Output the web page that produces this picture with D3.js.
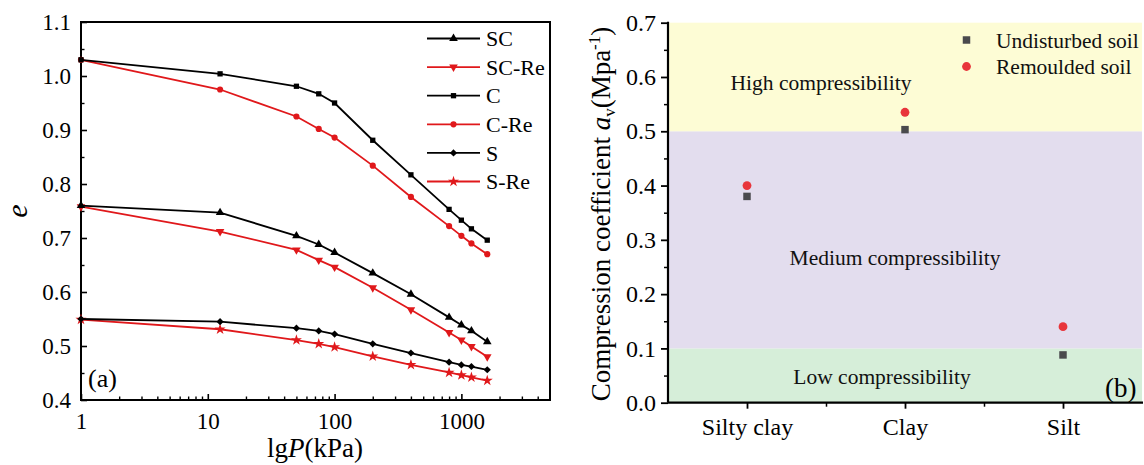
<!DOCTYPE html>
<html>
<head>
<meta charset="utf-8">
<script src="https://cdn.jsdelivr.net/npm/d3@7/dist/d3.min.js"></script>
<style>
  html, body { margin: 0; padding: 0; background: #fff; }
  svg { display: block; }
  svg text { font-family: "Liberation Serif", "Times New Roman", "DejaVu Serif", serif; }
</style>
</head>
<body>
<svg id="chart" width="1144" height="465"></svg>
<script>
// ---- Panel (a): e - lgP compression curves ----
const pressure = [1, 12.5, 50, 75, 100, 200, 400, 800, 1000, 1200, 1600];
const eSC   = [0.760, 0.747, 0.704, 0.688, 0.673, 0.635, 0.596, 0.553, 0.539, 0.528, 0.508];
const eSCRe = [0.758, 0.712, 0.678, 0.659, 0.646, 0.608, 0.567, 0.525, 0.511, 0.499, 0.480];
const eC    = [1.030, 1.004, 0.981, 0.967, 0.950, 0.881, 0.817, 0.753, 0.733, 0.717, 0.696];
const eCRe  = [1.030, 0.975, 0.925, 0.902, 0.886, 0.834, 0.776, 0.722, 0.704, 0.690, 0.670];
const eS    = [0.550, 0.545, 0.533, 0.528, 0.522, 0.504, 0.487, 0.470, 0.465, 0.462, 0.456];
const eSRe  = [0.549, 0.531, 0.511, 0.504, 0.498, 0.481, 0.465, 0.451, 0.446, 0.442, 0.436];
const seriesNames = ["SC", "SC-Re", "C", "C-Re", "S", "S-Re"];
const eTicks = [0.4, 0.5, 0.6, 0.7, 0.8, 0.9, 1.0, 1.1];
const pTicks = [1, 10, 100, 1000];

// ---- Panel (b): compression coefficient by soil type ----
const soilTypes = ["Silty clay", "Clay", "Silt"];
const avUndisturbed = [0.380, 0.503, 0.088];
const avRemoulded   = [0.400, 0.535, 0.140];
const zoneBounds = [0, 0.1, 0.5, 0.7];
const zoneNames = ["Low compressibility", "Medium compressibility", "High compressibility"];
const avTicks = [0, 0.1, 0.2, 0.3, 0.4, 0.5, 0.6, 0.7];

const svg = d3.select("#chart");
const BLACK = "#000";
const RED = "#e0181b";

// ================= Panel (a) =================
const A = { left: 81, right: 550, top: 22, bottom: 400 };
const xA = d3.scaleLog().domain([1, 5000]).range([A.left, A.right]);
const yA = d3.scaleLinear().domain([0.4, 1.1]).range([A.bottom, A.top]);

const gA = svg.append("g");

// minor/major ticks inside the frame
const minorP = [];
for (const dec of [1, 10, 100, 1000]) for (let k = 2; k <= 9; k++) { const v = dec * k; if (v < 5000) minorP.push(v); }
gA.append("g").attr("transform", `translate(0,${A.bottom})`)
  .call(d3.axisBottom(xA).tickValues(minorP).tickSize(-3.5).tickFormat(""))
  .call(g => g.select(".domain").remove())
  .selectAll("line").attr("stroke", BLACK).attr("stroke-width", 1.4);
gA.append("g").attr("transform", `translate(0,${A.bottom})`)
  .call(d3.axisBottom(xA).tickValues(pTicks).tickSize(-6).tickPadding(14).tickFormat(d3.format("d")))
  .call(g => g.select(".domain").remove())
  .call(g => g.selectAll("line").attr("stroke", BLACK).attr("stroke-width", 1.6))
  .call(g => g.selectAll("text").attr("fill", BLACK).attr("font-size", 23).attr("dy", "0.72em").attr("y", 12));

const minorE = d3.range(0.45, 1.1, 0.1);
gA.append("g").attr("transform", `translate(${A.left},0)`)
  .call(d3.axisLeft(yA).tickValues(minorE).tickSize(-3.5).tickFormat(""))
  .call(g => g.select(".domain").remove())
  .selectAll("line").attr("stroke", BLACK).attr("stroke-width", 1.4);
gA.append("g").attr("transform", `translate(${A.left},0)`)
  .call(d3.axisLeft(yA).tickValues(eTicks).tickSize(-6).tickPadding(10).tickFormat(d3.format(".1f")))
  .call(g => g.select(".domain").remove())
  .call(g => g.selectAll("line").attr("stroke", BLACK).attr("stroke-width", 1.6))
  .call(g => g.selectAll("text").attr("fill", BLACK).attr("font-size", 23));

// frame
gA.append("rect").attr("x", A.left).attr("y", A.top)
  .attr("width", A.right - A.left).attr("height", A.bottom - A.top)
  .attr("fill", "none").attr("stroke", BLACK).attr("stroke-width", 2);

// marker shapes
const markers = {
  "SC":    { color: BLACK, path: d3.symbol(d3.symbolTriangle, 32)(), rot: 0 },
  "SC-Re": { color: RED,   path: d3.symbol(d3.symbolTriangle, 32)(), rot: 180 },
  "C":     { color: BLACK, path: d3.symbol(d3.symbolSquare, 28)(), rot: 0 },
  "C-Re":  { color: RED,   path: d3.symbol(d3.symbolCircle, 30)(), rot: 0 },
  "S":     { color: BLACK, path: d3.symbol(d3.symbolSquare, 26)(), rot: 45 },
  "S-Re":  { color: RED,   path: d3.symbol(d3.symbolStar, 38)(), rot: 0 }
};
const seriesValues = { "SC": eSC, "SC-Re": eSCRe, "C": eC, "C-Re": eCRe, "S": eS, "S-Re": eSRe };

const line = d3.line().x(d => xA(d[0])).y(d => yA(d[1]));
// red series first so the black ones sit on top at shared start points
const drawOrder = ["SC-Re", "C-Re", "S-Re", "SC", "C", "S"];
for (const name of drawOrder) {
  const pts = pressure.map((p, i) => [p, seriesValues[name][i]]);
  const m = markers[name];
  gA.append("path").datum(pts).attr("d", line)
    .attr("fill", "none").attr("stroke", m.color).attr("stroke-width", 1.8);
  gA.append("g").selectAll("path").data(pts).join("path")
    .attr("d", m.path)
    .attr("transform", d => `translate(${xA(d[0])},${yA(d[1])}) rotate(${m.rot})`)
    .attr("fill", m.color);
}

// legend
const legA = gA.append("g");
seriesNames.forEach((name, i) => {
  const y = 38.5 + i * 28.6;
  const m = markers[name];
  legA.append("line").attr("x1", 427).attr("x2", 480).attr("y1", y).attr("y2", y)
    .attr("stroke", m.color).attr("stroke-width", 1.8);
  legA.append("path").attr("d", m.path).attr("transform", `translate(453.5,${y}) rotate(${m.rot})`).attr("fill", m.color);
  legA.append("text").attr("x", 486).attr("y", y).attr("dy", "0.35em")
    .attr("font-size", 22).attr("fill", BLACK).text(name);
});

// titles
gA.append("text").attr("x", 315).attr("y", 457).attr("text-anchor", "middle")
  .attr("font-size", 27).attr("fill", BLACK)
  .call(t => { t.append("tspan").text("lg"); t.append("tspan").attr("font-style", "italic").text("P"); t.append("tspan").text("(kPa)"); });
gA.append("text").attr("transform", "translate(27,211) rotate(-90)").attr("text-anchor", "middle")
  .attr("font-size", 30).attr("font-style", "italic").attr("fill", BLACK).text("e");
gA.append("text").attr("x", 88).attr("y", 387).attr("font-size", 26).attr("fill", BLACK).text("(a)");

// ================= Panel (b) =================
const B = { left: 668, right: 1142, top: 22.7, bottom: 402.7 };
const xB = d3.scaleLinear().domain([0.5, 3.5]).range([B.left, B.right]);
const yB = d3.scaleLinear().domain([0, 0.7]).range([B.bottom, B.top]);
const gB = svg.append("g");

const zoneColors = ["#d6eed9", "#e3ddee", "#fdfcd5"];
gB.append("g").selectAll("rect").data(d3.range(zoneNames.length)).join("rect")
  .attr("x", B.left).attr("width", B.right - B.left)
  .attr("y", i => yB(zoneBounds[i + 1]))
  .attr("height", i => yB(zoneBounds[i]) - yB(zoneBounds[i + 1]))
  .attr("fill", i => zoneColors[i]);

// zone captions
const zoneLabelPos = [[882, 0.034], [895, 0.254], [821, 0.576]];
gB.append("g").selectAll("text").data(zoneNames).join("text")
  .attr("x", (d, i) => zoneLabelPos[i][0]).attr("y", (d, i) => yB(zoneLabelPos[i][1]))
  .attr("text-anchor", "middle").attr("font-size", 21.5).attr("fill", "#111").text(d => d);

// axes
gB.append("g").attr("transform", `translate(${B.left},0)`)
  .call(d3.axisLeft(yB).tickValues(d3.range(0.05, 0.7, 0.1)).tickSize(4).tickFormat(""))
  .call(g => g.select(".domain").remove())
  .selectAll("line").attr("stroke", BLACK).attr("stroke-width", 1.5);
gB.append("g").attr("transform", `translate(${B.left},0)`)
  .call(d3.axisLeft(yB).tickValues(avTicks).tickSize(7).tickPadding(5).tickFormat(d3.format(".1f")))
  .call(g => g.select(".domain").attr("stroke", BLACK).attr("stroke-width", 2.2).attr("d", `M0,${B.top - 1}V${B.bottom}`))
  .call(g => g.selectAll("line").attr("stroke", BLACK).attr("stroke-width", 1.8))
  .call(g => g.selectAll("text").attr("fill", BLACK).attr("font-size", 24));

gB.append("g").attr("transform", `translate(0,${B.bottom})`)
  .call(d3.axisBottom(xB).tickValues([1.5, 2.5]).tickSize(4).tickFormat(""))
  .call(g => g.select(".domain").remove())
  .selectAll("line").attr("stroke", BLACK).attr("stroke-width", 1.5);
gB.append("g").attr("transform", `translate(0,${B.bottom})`)
  .call(d3.axisBottom(xB).tickValues([1, 2, 3]).tickSize(6).tickPadding(9).tickFormat(d => soilTypes[d - 1]))
  .call(g => g.select(".domain").attr("stroke", BLACK).attr("stroke-width", 2.2).attr("d", `M${B.left},0H${B.right + 1}`))
  .call(g => g.selectAll("line").attr("stroke", BLACK).attr("stroke-width", 1.8))
  .call(g => g.selectAll("text").attr("fill", BLACK).attr("font-size", 24));

// points
const SQ = "#4a4a4d", CIR = "#e8353b";
gB.append("g").selectAll("path").data(avUndisturbed).join("path")
  .attr("d", d3.symbol(d3.symbolSquare, 56)())
  .attr("transform", (d, i) => `translate(${xB(i + 1)},${yB(d)})`).attr("fill", SQ);
gB.append("g").selectAll("circle").data(avRemoulded).join("circle")
  .attr("cx", (d, i) => xB(i + 1)).attr("cy", d => yB(d)).attr("r", 4.4).attr("fill", CIR);

// legend
gB.append("path").attr("d", d3.symbol(d3.symbolSquare, 56)()).attr("transform", "translate(966.5,40)").attr("fill", SQ);
gB.append("circle").attr("cx", 966.5).attr("cy", 66.5).attr("r", 4.4).attr("fill", CIR);
gB.append("text").attr("x", 996).attr("y", 40).attr("dy", "0.35em").attr("font-size", 21.5).attr("fill", "#111").text("Undisturbed soil");
gB.append("text").attr("x", 996).attr("y", 66.5).attr("dy", "0.35em").attr("font-size", 21.5).attr("fill", "#111").text("Remoulded soil");

// y title
const ty = gB.append("text").attr("transform", "translate(610,214) rotate(-90)")
  .attr("text-anchor", "middle").attr("font-size", 27).attr("fill", BLACK);
ty.append("tspan").text("Compression coefficient ");
ty.append("tspan").attr("font-style", "italic").text("a");
ty.append("tspan").attr("font-size", 17).attr("dy", 5).text("v");
ty.append("tspan").attr("dy", -5).text("(Mpa");
ty.append("tspan").attr("font-size", 17).attr("dy", -10).text("-1");
ty.append("tspan").attr("dy", 10).text(")");

gB.append("text").attr("x", 1105).attr("y", 397).attr("font-size", 27).attr("fill", BLACK).text("(b)");
</script>
</body>
</html>
